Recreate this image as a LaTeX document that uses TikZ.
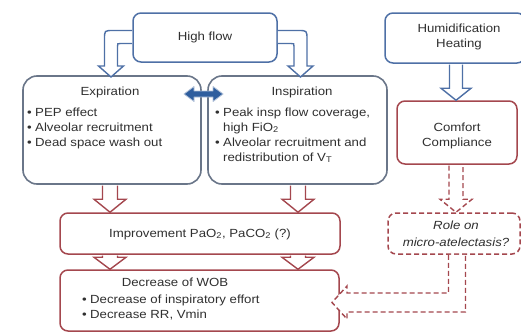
\documentclass[tikz,border=0pt]{standalone}
\usepackage{fontspec}
\setmainfont{Liberation Sans}[FakeStretch=1.12]
\usetikzlibrary{calc}

\definecolor{hfblue}{HTML}{4E70A6}
\definecolor{boxgray}{HTML}{6A7689}
\definecolor{boxred}{HTML}{A4474E}
\definecolor{arrowfill}{HTML}{2F5E9E}
\definecolor{arrowrim}{HTML}{B4C3DA}
\definecolor{txt}{HTML}{303030}

\newcommand\bul{\makebox[8pt][l]{\textbullet}}
\newcommand\indentbul{\hspace*{8pt}}

% straight hollow arrow pointing down from one box to another
% #1 style, #2 x, #3 source node, #4 target node, #5 shaft half width, #6 head half width, #7 head length
\newcommand\hollowdown[7]{%
  \draw[#1] ($(#2-#5,0 |- #3.south)+(0,0.8)$)
    -- ($(#2-#5,0 |- #4.north)+(0,-#7)$)
    -- ($(#2-#6,0 |- #4.north)+(0,-#7)$)
    -- (#2,0 |- #4.north)
    -- ($(#2+#6,0 |- #4.north)+(0,-#7)$)
    -- ($(#2+#5,0 |- #4.north)+(0,-#7)$)
    -- ($(#2+#5,0 |- #3.south)+(0,0.8)$);}

\tikzset{
  boxbase/.style={fill=white, line width=1.5pt, inner sep=0pt},
  hfbox/.style={boxbase, draw=hfblue, rounded corners=8pt},
  phasebox/.style={boxbase, draw=boxgray, rounded corners=14pt, line width=1.6pt},
  effbox/.style={boxbase, draw=boxred, rounded corners=8pt},
  dashbox/.style={effbox, dash pattern=on 5pt off 3pt},
  hollowblue/.style={draw=hfblue, fill=white, line width=1.4pt},
  hollowred/.style={draw=boxred, fill=white, line width=1.4pt},
  hollowdash/.style={hollowred, dash pattern=on 5pt off 3pt},
  lbl/.style={text=txt, font=\fontsize{11.8}{15}\selectfont, inner sep=0pt},
}

\begin{document}
\begin{tikzpicture}[x=1pt, y=-1pt]
\useasboundingbox (0,0) rectangle (521,332);

% boxes
\node[hfbox, minimum width=144pt, minimum height=49pt] (hf) at (205,37.5) {};
\node[hfbox, minimum width=140pt, minimum height=50pt] (hum) at (455,38) {};
\node[phasebox, minimum width=178pt, minimum height=108pt] (exp) at (112,130) {};
\node[phasebox, minimum width=179pt, minimum height=108pt] (insp) at (297.5,130) {};
\node[effbox, minimum width=120pt, minimum height=63pt] (comf) at (457,132.5) {};
\node[dashbox, minimum width=132pt, minimum height=41pt] (role) at (454,233.5) {};
\node[effbox, minimum width=280pt, minimum height=41pt] (imp) at (200,233.5) {};
\node[effbox, minimum width=279pt, minimum height=61pt] (dec) at (199.5,300.5) {};

% bent arrows from the high-flow box
\draw[hollowblue] (132.2,30.5) -- (113,30.5) .. controls (104.5,30.5) .. (104.5,39)
  -- (104.5,66) -- (98.5,66) -- (111,77) -- (123.5,66) -- (117.5,66)
  -- (117.5,46.5) .. controls (117.5,43.5) .. (120.5,43.5) -- (132.2,43.5);
\draw[hollowblue] (277.8,30.5) -- (298,30.5) .. controls (307,30.5) .. (307,39.5)
  -- (307,66) -- (313,66) -- (300.5,77) -- (288,66) -- (294,66)
  -- (294,46.5) .. controls (294,43.5) .. (291,43.5) -- (277.8,43.5);

% straight arrows
\hollowdown{hollowblue}{456}{hum}{comf}{6.5}{15}{12}
\hollowdown{hollowdash}{456}{comf}{role}{7}{16}{13}
\hollowdown{hollowred}{110}{exp}{imp}{7.5}{16}{13}
\hollowdown{hollowred}{298}{insp}{imp}{7.5}{16}{13}
\hollowdown{hollowred}{110}{imp}{dec}{7.5}{16}{12}
\hollowdown{hollowred}{298}{imp}{dec}{7.5}{16}{12}

% dashed bent arrow into the WOB box
\draw[hollowdash] (448.5,254.8) -- (448.5,293) -- (347,293) -- (347,286) -- (332,302.5)
  -- (347,319) -- (347,312) -- (465.5,312) -- (465.5,254.8);

% double arrow between expiration and inspiration
\draw[fill=arrowfill, draw=arrowrim, line width=0.8pt, line join=round]
  (184,94) -- (194,86.5) -- (194,91) -- (213,91) -- (213,86.5) -- (223,94)
  -- (213,101.5) -- (213,97) -- (194,97) -- (194,101.5) -- cycle;

% texts
\node[lbl] (thf) at (205,37.5) {High flow};
\node[lbl, anchor=base] (thum) at (459,32)
  {\begin{tabular}[t]{@{}c@{}}Humidification\\Heating\end{tabular}};
\node[lbl, anchor=base] (texp) at (110,95) {Expiration};
\node[lbl, anchor=base west] (lexp) at (27,116)
  {\begin{tabular}[t]{@{}l@{}}\bul PEP effect\\\bul Alveolar recruitment\\\bul Dead space wash out\end{tabular}};
\node[lbl, anchor=base] (tinsp) at (302,95) {Inspiration};
\node[lbl, anchor=base west] (linsp) at (215,116)
  {\begin{tabular}[t]{@{}l@{}}\bul Peak insp flow coverage,\\\indentbul high FiO\textsubscript{2}\\\bul Alveolar recruitment and\\\indentbul redistribution of V\textsubscript{T}\end{tabular}};
\node[lbl, anchor=base] (tcomf) at (457,131)
  {\begin{tabular}[t]{@{}c@{}}Comfort\\Compliance\end{tabular}};
\node[lbl, anchor=base, font=\fontsize{11.8}{17}\selectfont\itshape] (trole) at (456,229)
  {\begin{tabular}[t]{@{}c@{}}Role on\\micro-atelectasis?\end{tabular}};
\node[lbl, anchor=base] (timp) at (200,237) {Improvement PaO\textsubscript{2}, PaCO\textsubscript{2} (?)};
\node[lbl, anchor=base] (tdec) at (175,286) {Decrease of WOB};
\node[lbl, anchor=base west] (ldec) at (82,303)
  {\begin{tabular}[t]{@{}l@{}}\bul Decrease of inspiratory effort\\\bul Decrease RR, Vmin\end{tabular}};
\end{tikzpicture}
\end{document}
